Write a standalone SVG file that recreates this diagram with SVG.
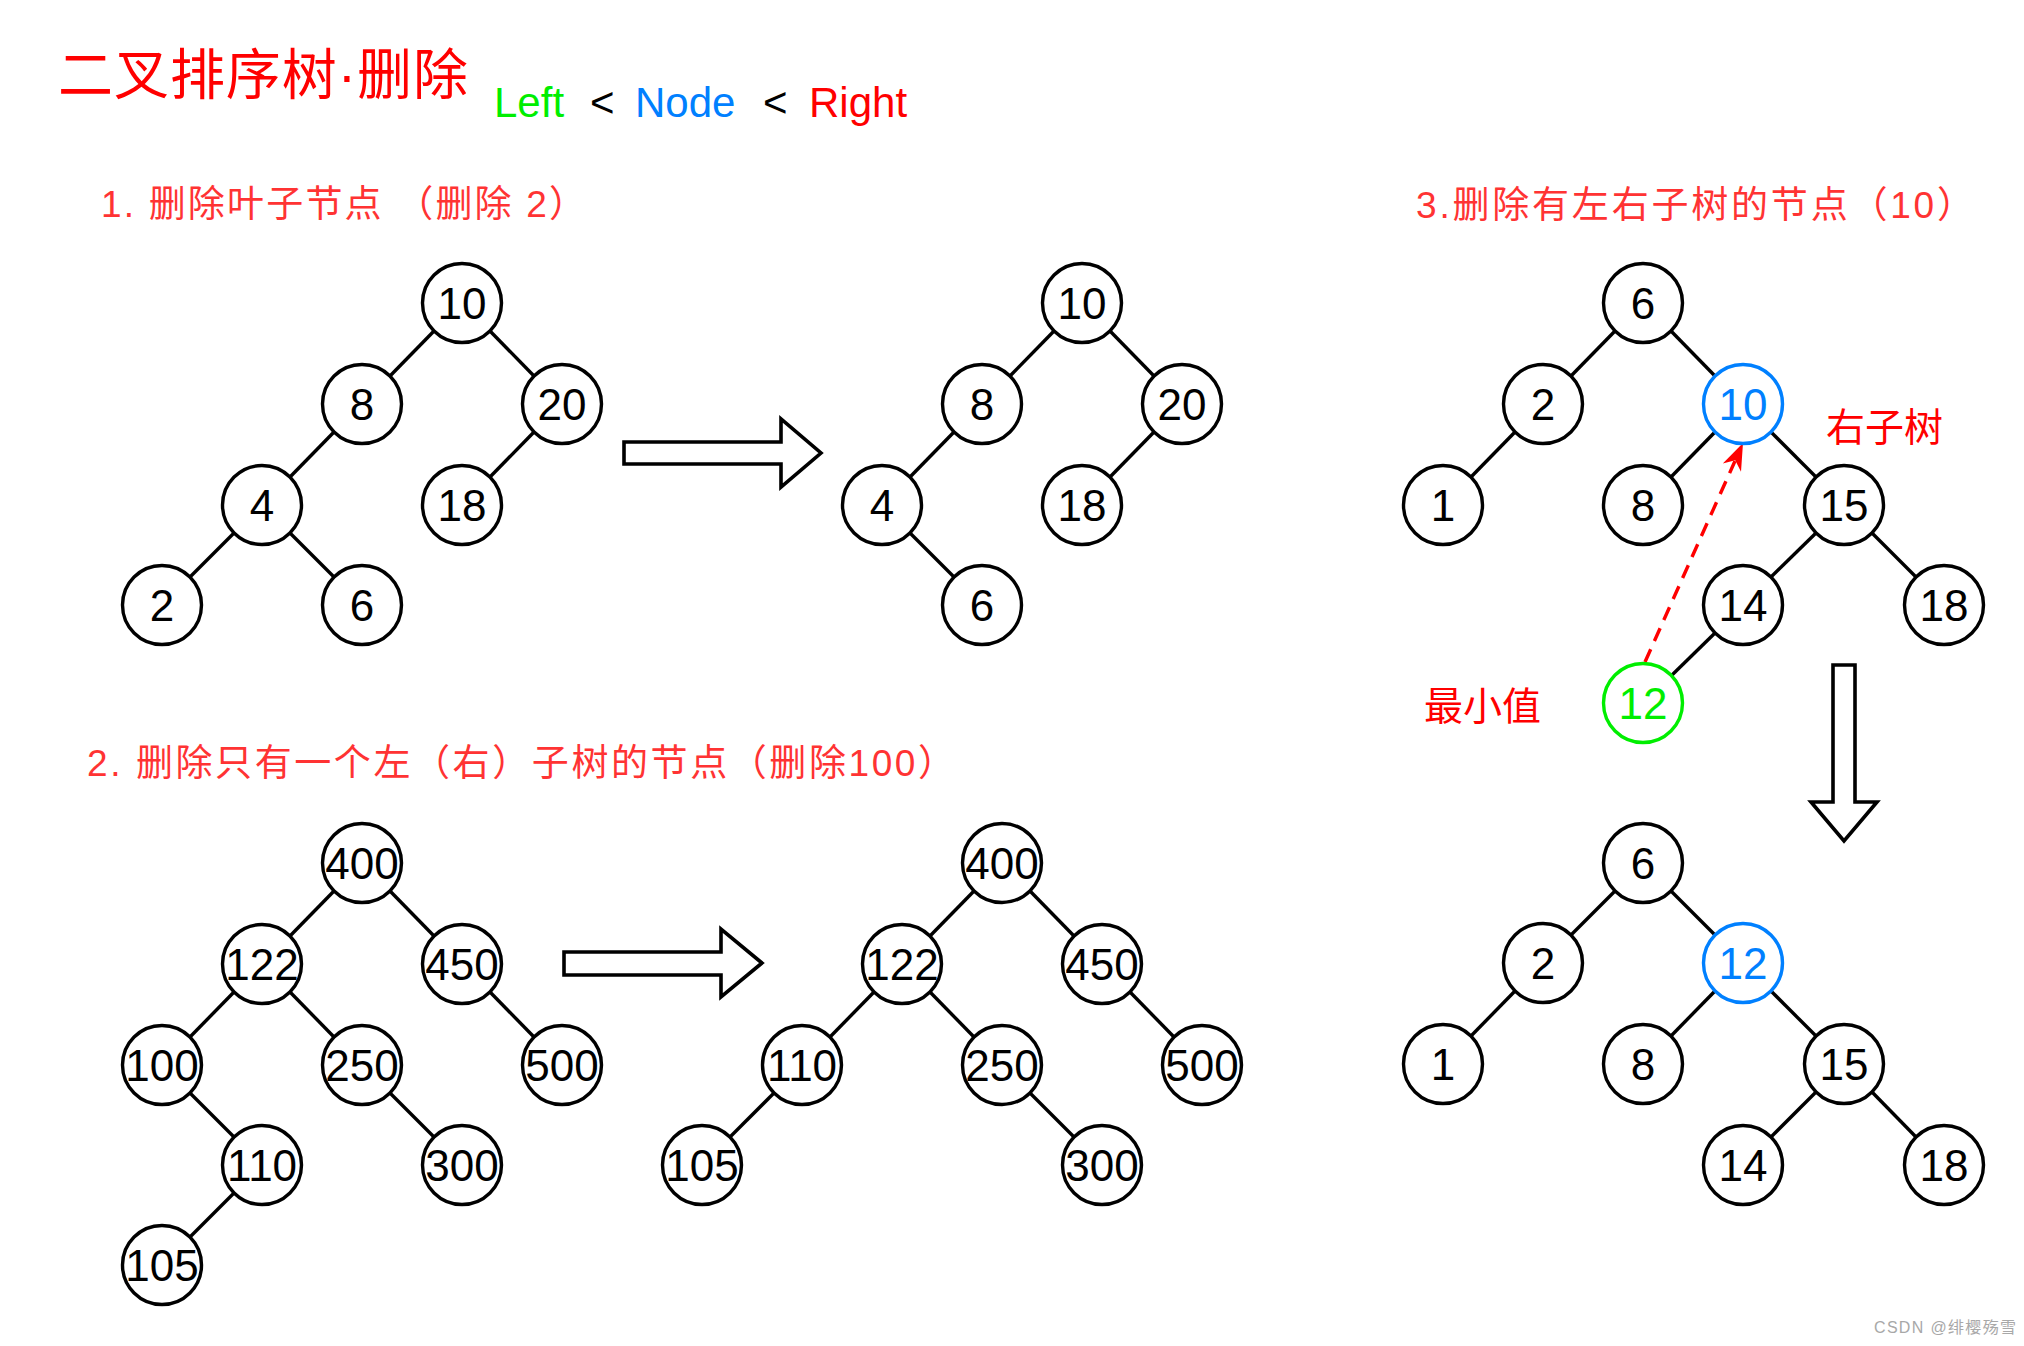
<svg xmlns="http://www.w3.org/2000/svg" width="2024" height="1346" viewBox="0 0 2024 1346">
<style>
.node circle{fill:#fff;stroke:#000;stroke-width:3.4}
.node text{font-family:"Liberation Sans",Arial,sans-serif;font-size:44px;text-anchor:middle;fill:#000}
.node.blue circle{stroke:#0080FF}
.node.blue text{fill:#0080FF}
.node.green circle{stroke:#00EE00}
.node.green text{fill:#00EE00}
#connectors line{stroke:#000;stroke-width:3.4;stroke-linecap:butt}
.hollow{fill:#fff;stroke:#000;stroke-width:3.6;stroke-linejoin:miter}
.hdr{font-family:"Liberation Sans","Noto Sans CJK SC",sans-serif;font-size:37px;fill:#FF3333}
.lbl{font-family:"Noto Sans CJK SC","Liberation Sans",sans-serif;font-size:39px;fill:#FF0000}
.lat{font-family:"Liberation Sans",Arial,sans-serif;font-size:42px}
</style>
<rect width="2024" height="1346" fill="#fff"/>

<g id="title">
<text x="58" y="94" font-family="Noto Sans CJK SC, Liberation Sans, sans-serif" font-size="55" fill="#FF0000" textLength="410" lengthAdjust="spacing">二叉排序树<tspan font-family="Liberation Sans, sans-serif">·</tspan>删除</text>
<text class="lat" x="494" y="117" fill="#00EE00">Left</text>
<text class="lat" x="590" y="117" fill="#000">&lt;</text>
<text class="lat" x="635" y="117" fill="#0080FF">Node</text>
<text class="lat" x="763" y="117" fill="#000">&lt;</text>
<text class="lat" x="809" y="117" fill="#FF0000">Right</text>
</g>

<g id="headers">
<text class="hdr" x="101" y="217" textLength="485" lengthAdjust="spacing">1. 删除叶子节点 （删除 2）</text>
<text class="hdr" x="87" y="776" textLength="868" lengthAdjust="spacing">2. 删除只有一个左（右）子树的节点（删除100）</text>
<text class="hdr" x="1416" y="218" textLength="558" lengthAdjust="spacing">3.删除有左右子树的节点（10）</text>
<text class="lbl" x="1826" y="441">右子树</text>
<text class="lbl" x="1424" y="720" font-size="40">最小值</text>
</g>

<g id="connectors">
<!-- tree 1 before -->
<line x1="434" y1="331" x2="390" y2="376"/>
<line x1="490" y1="331" x2="534" y2="376"/>
<line x1="334" y1="432" x2="290" y2="477"/>
<line x1="534" y1="432" x2="490" y2="477"/>
<line x1="234" y1="533" x2="190" y2="577"/>
<line x1="290" y1="533" x2="334" y2="577"/>
<!-- tree 1 after -->
<line x1="1054" y1="331" x2="1010" y2="376"/>
<line x1="1110" y1="331" x2="1154" y2="376"/>
<line x1="954" y1="432" x2="910" y2="477"/>
<line x1="1154" y1="432" x2="1110" y2="477"/>
<line x1="910" y1="533" x2="954" y2="577"/>
<!-- tree 2 before -->
<line x1="334" y1="891" x2="290" y2="936"/>
<line x1="390" y1="891" x2="434" y2="936"/>
<line x1="234" y1="992" x2="190" y2="1037"/>
<line x1="290" y1="992" x2="334" y2="1037"/>
<line x1="490" y1="992" x2="534" y2="1037"/>
<line x1="190" y1="1093" x2="234" y2="1137"/>
<line x1="390" y1="1093" x2="434" y2="1137"/>
<line x1="234" y1="1193" x2="190" y2="1237"/>
<!-- tree 2 after -->
<line x1="974" y1="891" x2="930" y2="936"/>
<line x1="1030" y1="891" x2="1074" y2="936"/>
<line x1="874" y1="992" x2="830" y2="1037"/>
<line x1="930" y1="992" x2="974" y2="1037"/>
<line x1="1130" y1="992" x2="1174" y2="1037"/>
<line x1="774" y1="1093" x2="730" y2="1137"/>
<line x1="1030" y1="1093" x2="1074" y2="1137"/>
<!-- tree 3 before -->
<line x1="1615" y1="331" x2="1571" y2="376"/>
<line x1="1671" y1="331" x2="1715" y2="376"/>
<line x1="1515" y1="432" x2="1471" y2="477"/>
<line x1="1715" y1="432" x2="1671" y2="477"/>
<line x1="1771" y1="432" x2="1816" y2="477"/>
<line x1="1816" y1="533" x2="1771" y2="577"/>
<line x1="1872" y1="533" x2="1916" y2="577"/>
<line x1="1715" y1="633" x2="1671" y2="676"/>
<!-- tree 3 after -->
<line x1="1615" y1="891" x2="1571" y2="935"/>
<line x1="1671" y1="891" x2="1715" y2="935"/>
<line x1="1515" y1="991" x2="1471" y2="1036"/>
<line x1="1715" y1="991" x2="1671" y2="1036"/>
<line x1="1771" y1="991" x2="1816" y2="1036"/>
<line x1="1816" y1="1092" x2="1771" y2="1137"/>
<line x1="1872" y1="1092" x2="1916" y2="1137"/>
<!-- red dashed move arrow -->
<line x1="1645" y1="662" x2="1735" y2="461" style="stroke:#FF0000;stroke-width:3.4;stroke-dasharray:14 9"/>
<polygon points="1743,443 1741,471.7 1735.2,460.3 1722.8,463.5" fill="#FF0000"/>
<!-- hollow transition arrows -->
<polygon class="hollow" points="624,442 781,442 781,419 821,453 781,487 781,464 624,464"/>
<polygon class="hollow" points="564,952 721,952 721,929 762,963 721,997 721,975 564,975"/>
<polygon class="hollow" points="1833,665 1855,665 1855,802 1877,802 1844,841 1811,802 1833,802"/>
</g>

<g id="tree1-before">
<g id="t1a-10" class="node"><circle cx="462" cy="303" r="39.5"/><text x="462" y="318.5">10</text></g>
<g id="t1a-8" class="node"><circle cx="362" cy="404" r="39.5"/><text x="362" y="419.5">8</text></g>
<g id="t1a-20" class="node"><circle cx="562" cy="404" r="39.5"/><text x="562" y="419.5">20</text></g>
<g id="t1a-4" class="node"><circle cx="262" cy="505" r="39.5"/><text x="262" y="520.5">4</text></g>
<g id="t1a-18" class="node"><circle cx="462" cy="505" r="39.5"/><text x="462" y="520.5">18</text></g>
<g id="t1a-2" class="node"><circle cx="162" cy="605" r="39.5"/><text x="162" y="620.5">2</text></g>
<g id="t1a-6" class="node"><circle cx="362" cy="605" r="39.5"/><text x="362" y="620.5">6</text></g>
</g>

<g id="tree1-after">
<g id="t1b-10" class="node"><circle cx="1082" cy="303" r="39.5"/><text x="1082" y="318.5">10</text></g>
<g id="t1b-8" class="node"><circle cx="982" cy="404" r="39.5"/><text x="982" y="419.5">8</text></g>
<g id="t1b-20" class="node"><circle cx="1182" cy="404" r="39.5"/><text x="1182" y="419.5">20</text></g>
<g id="t1b-4" class="node"><circle cx="882" cy="505" r="39.5"/><text x="882" y="520.5">4</text></g>
<g id="t1b-18" class="node"><circle cx="1082" cy="505" r="39.5"/><text x="1082" y="520.5">18</text></g>
<g id="t1b-6" class="node"><circle cx="982" cy="605" r="39.5"/><text x="982" y="620.5">6</text></g>
</g>

<g id="tree2-before">
<g id="t2a-400" class="node"><circle cx="362" cy="863" r="39.5"/><text x="362" y="878.5">400</text></g>
<g id="t2a-122" class="node"><circle cx="262" cy="964" r="39.5"/><text x="262" y="979.5">122</text></g>
<g id="t2a-450" class="node"><circle cx="462" cy="964" r="39.5"/><text x="462" y="979.5">450</text></g>
<g id="t2a-100" class="node"><circle cx="162" cy="1065" r="39.5"/><text x="162" y="1080.5">100</text></g>
<g id="t2a-250" class="node"><circle cx="362" cy="1065" r="39.5"/><text x="362" y="1080.5">250</text></g>
<g id="t2a-500" class="node"><circle cx="562" cy="1065" r="39.5"/><text x="562" y="1080.5">500</text></g>
<g id="t2a-110" class="node"><circle cx="262" cy="1165" r="39.5"/><text x="262" y="1180.5">110</text></g>
<g id="t2a-300" class="node"><circle cx="462" cy="1165" r="39.5"/><text x="462" y="1180.5">300</text></g>
<g id="t2a-105" class="node"><circle cx="162" cy="1265" r="39.5"/><text x="162" y="1280.5">105</text></g>
</g>

<g id="tree2-after">
<g id="t2b-400" class="node"><circle cx="1002" cy="863" r="39.5"/><text x="1002" y="878.5">400</text></g>
<g id="t2b-122" class="node"><circle cx="902" cy="964" r="39.5"/><text x="902" y="979.5">122</text></g>
<g id="t2b-450" class="node"><circle cx="1102" cy="964" r="39.5"/><text x="1102" y="979.5">450</text></g>
<g id="t2b-110" class="node"><circle cx="802" cy="1065" r="39.5"/><text x="802" y="1080.5">110</text></g>
<g id="t2b-250" class="node"><circle cx="1002" cy="1065" r="39.5"/><text x="1002" y="1080.5">250</text></g>
<g id="t2b-500" class="node"><circle cx="1202" cy="1065" r="39.5"/><text x="1202" y="1080.5">500</text></g>
<g id="t2b-105" class="node"><circle cx="702" cy="1165" r="39.5"/><text x="702" y="1180.5">105</text></g>
<g id="t2b-300" class="node"><circle cx="1102" cy="1165" r="39.5"/><text x="1102" y="1180.5">300</text></g>
</g>

<g id="tree3-before">
<g id="t3a-6" class="node"><circle cx="1643" cy="303" r="39.5"/><text x="1643" y="318.5">6</text></g>
<g id="t3a-2" class="node"><circle cx="1543" cy="404" r="39.5"/><text x="1543" y="419.5">2</text></g>
<g id="t3a-10" class="node blue"><circle cx="1743" cy="404" r="39.5"/><text x="1743" y="419.5">10</text></g>
<g id="t3a-1" class="node"><circle cx="1443" cy="505" r="39.5"/><text x="1443" y="520.5">1</text></g>
<g id="t3a-8" class="node"><circle cx="1643" cy="505" r="39.5"/><text x="1643" y="520.5">8</text></g>
<g id="t3a-15" class="node"><circle cx="1844" cy="505" r="39.5"/><text x="1844" y="520.5">15</text></g>
<g id="t3a-14" class="node"><circle cx="1743" cy="605" r="39.5"/><text x="1743" y="620.5">14</text></g>
<g id="t3a-18" class="node"><circle cx="1944" cy="605" r="39.5"/><text x="1944" y="620.5">18</text></g>
<g id="t3a-12" class="node green"><circle cx="1643" cy="703" r="39.5"/><text x="1643" y="718.5">12</text></g>
</g>

<g id="tree3-after">
<g id="t3b-6" class="node"><circle cx="1643" cy="863" r="39.5"/><text x="1643" y="878.5">6</text></g>
<g id="t3b-2" class="node"><circle cx="1543" cy="963" r="39.5"/><text x="1543" y="978.5">2</text></g>
<g id="t3b-12" class="node blue"><circle cx="1743" cy="963" r="39.5"/><text x="1743" y="978.5">12</text></g>
<g id="t3b-1" class="node"><circle cx="1443" cy="1064" r="39.5"/><text x="1443" y="1079.5">1</text></g>
<g id="t3b-8" class="node"><circle cx="1643" cy="1064" r="39.5"/><text x="1643" y="1079.5">8</text></g>
<g id="t3b-15" class="node"><circle cx="1844" cy="1064" r="39.5"/><text x="1844" y="1079.5">15</text></g>
<g id="t3b-14" class="node"><circle cx="1743" cy="1165" r="39.5"/><text x="1743" y="1180.5">14</text></g>
<g id="t3b-18" class="node"><circle cx="1944" cy="1165" r="39.5"/><text x="1944" y="1180.5">18</text></g>
</g>

<text x="1874" y="1333" font-family="Liberation Sans, Noto Sans CJK SC, sans-serif" font-size="16" fill="#A8A8A8" textLength="142" lengthAdjust="spacing">CSDN @绯樱殇雪</text>
</svg>
